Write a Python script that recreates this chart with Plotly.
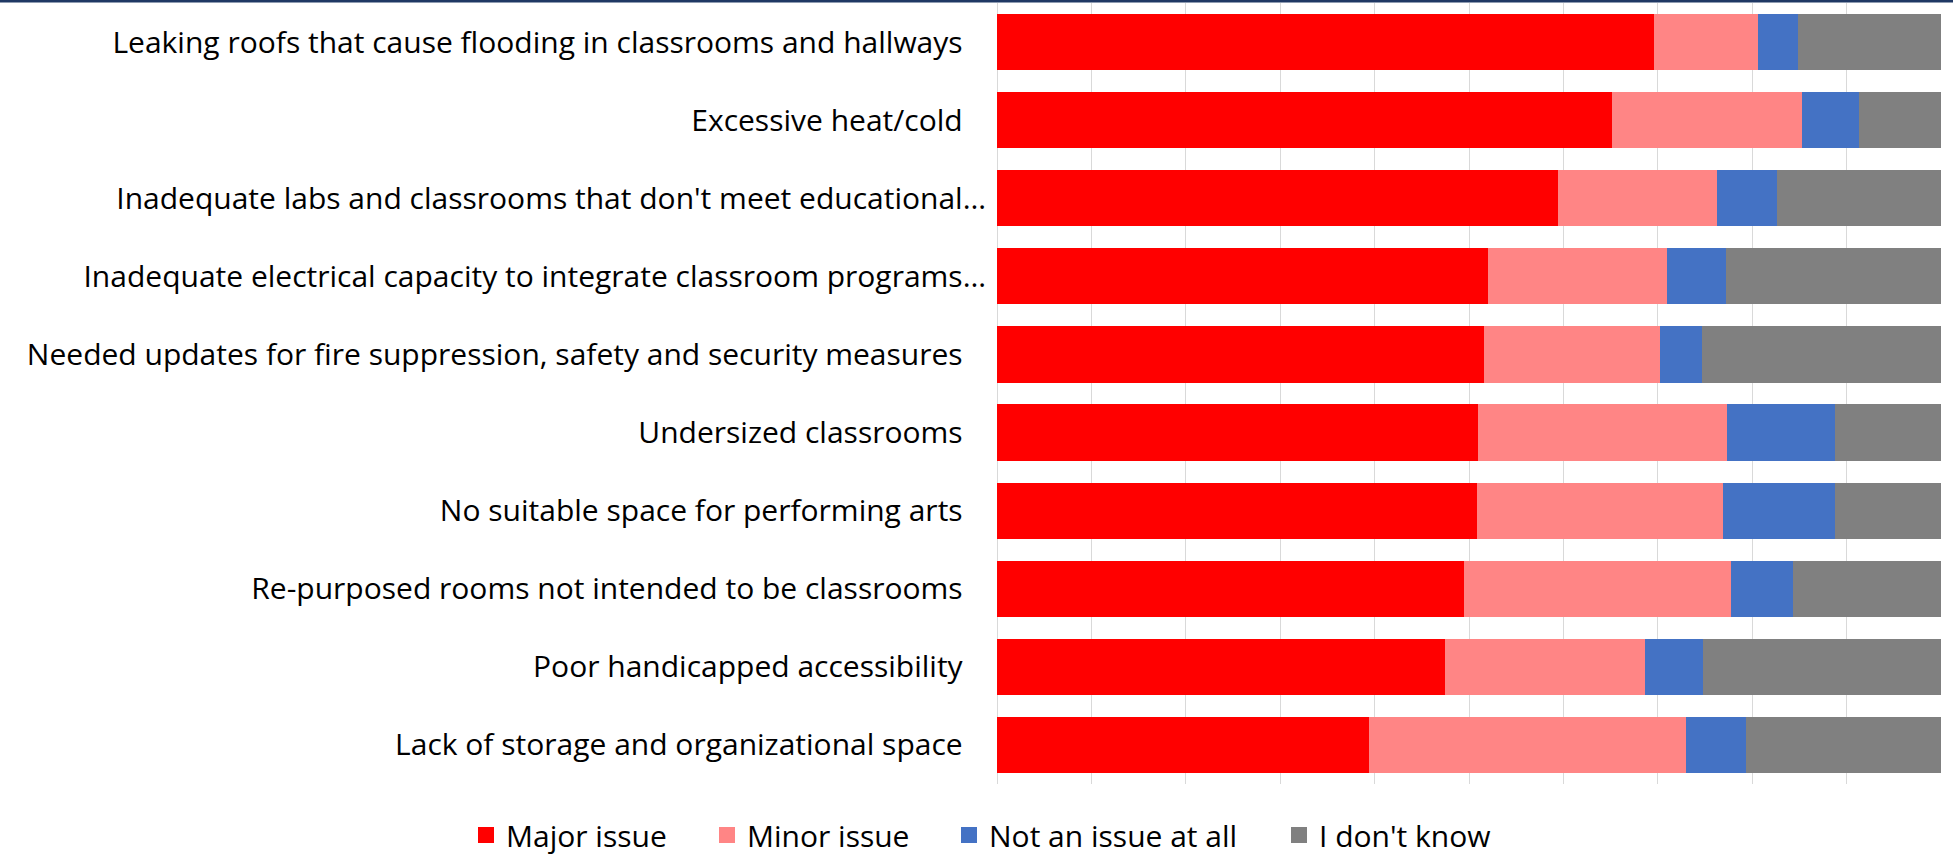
import plotly.graph_objects as go

categories = [
    "Leaking roofs that cause flooding in classrooms and hallways",
    "Excessive heat/cold",
    "Inadequate labs and classrooms that don't meet educational…",
    "Inadequate electrical capacity to integrate classroom programs…",
    "Needed updates for fire suppression, safety and security measures",
    "Undersized classrooms",
    "No suitable space for performing arts",
    "Re-purposed rooms not intended to be classrooms",
    "Poor handicapped accessibility",
    "Lack of storage and organizational space",
]
major = [69.6, 65.1, 59.4, 52.0, 51.6, 50.9, 50.8, 49.5, 47.5, 39.4]
minor = [11.0, 20.2, 16.9, 19.0, 18.6, 26.4, 26.1, 28.3, 21.1, 33.6]
not_issue = [4.2, 6.0, 6.3, 6.2, 4.5, 11.5, 11.9, 6.5, 6.2, 6.3]
dont_know = [15.2, 8.7, 17.4, 22.8, 25.3, 11.2, 11.2, 15.7, 25.2, 20.7]

series_names = ["Major issue", "Minor issue", "Not an issue at all", "I don't know"]
series_values = [major, minor, not_issue, dont_know]
colors = ["#FF0000", "#FF8585", "#4472C4", "#808080"]

NB = "\u00a0"
# pad labels that are not truncated (as in the original)
display_labels = [c if c.endswith("…") else c + NB * 3 for c in categories]

W, H = 1953, 854
ML, MR, MT, MB = 997, 12, 3, 70
FONT = "Open Sans"
legend_left_px = [466, 707, 949, 1279]

fig = go.Figure()
for name, vals, col in zip(series_names, series_values, colors):
    fig.add_trace(go.Bar(
        y=display_labels, x=vals, name=name, orientation="h",
        marker=dict(color=col, line=dict(width=0)),
        showlegend=False,
    ))
legend_ids = ["legend", "legend2", "legend3", "legend4"]
for name, col, lid in zip(series_names, colors, legend_ids):
    fig.add_trace(go.Scatter(
        x=[None], y=[None], mode="markers", name=name, legend=lid,
        marker=dict(symbol="square", size=19, color=col),
        showlegend=True,
    ))

pw = W - ML - MR
ph = H - MT - MB
fig.update_layout(
    width=W, height=H,
    barmode="stack", bargap=0.28,
    margin=dict(l=ML, r=MR, t=MT, b=MB, autoexpand=False),
    paper_bgcolor="white", plot_bgcolor="white",
    font=dict(family=FONT, size=30, color="#000000"),
    xaxis=dict(range=[0, 100], dtick=10, showgrid=True, gridcolor="#D9D9D9",
               gridwidth=1, showticklabels=False, zeroline=True,
               zerolinecolor="#D9D9D9", zerolinewidth=1, fixedrange=True),
    yaxis=dict(autorange="reversed", showgrid=False, ticks="",
               ticklabelstandoff=10, tickfont=dict(family=FONT, size=30, color="#000000"),
               automargin=False, showline=False, fixedrange=True),
    showlegend=True,
)
for lid, lx in zip(legend_ids, legend_left_px):
    fig.update_layout({lid: dict(
        orientation="h", xref="container", yref="paper",
        x=lx / W, xanchor="left", y=-(835 - (H - MB)) / ph, yanchor="middle",
        font=dict(family=FONT, size=30, color="#000000"),
        itemsizing="trace", bgcolor="rgba(0,0,0,0)")})

# thin dark navy rule along the very top of the image
fig.add_shape(type="line", xref="paper", yref="paper",
              x0=-ML / pw, x1=1 + MR / pw, y0=1 + (MT - 1) / ph, y1=1 + (MT - 1) / ph,
              line=dict(color="#1F3864", width=3))

fig.write_html("out.html", config={"displayModeBar": False},
               post_script="document.body.style.margin='0';document.body.style.overflow='hidden';")
